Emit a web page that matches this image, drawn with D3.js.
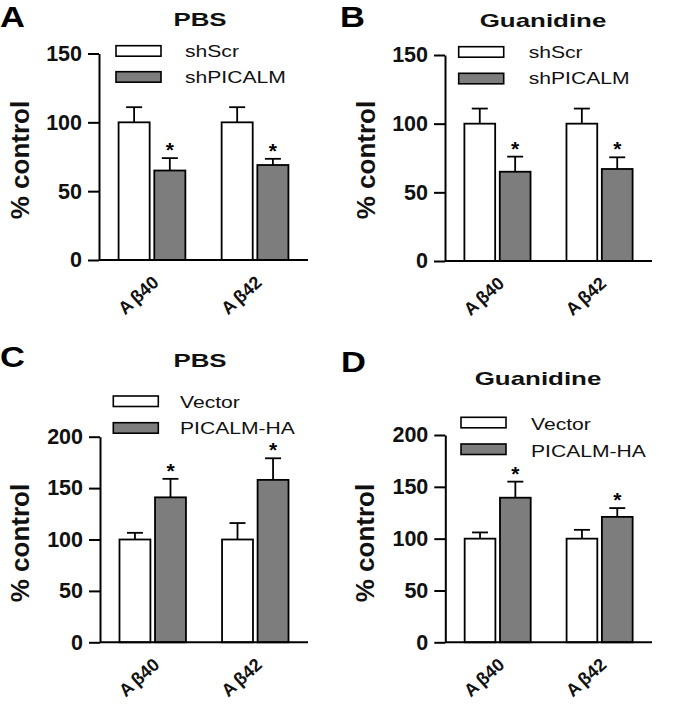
<!DOCTYPE html>
<html>
<head>
<meta charset="utf-8">
<script src="https://cdn.jsdelivr.net/npm/d3@7/dist/d3.min.js"></script>
<style>
  body { margin: 0; background: #fff; }
  svg { display: block; font-family: "Liberation Sans", Arial, sans-serif; }
</style>
</head>
<body>
<svg id="chart" width="693" height="706"></svg>
<script>
// ---------- data ----------
const groups = ["Aβ40", "Aβ42"];
const seriesKnockdown = ["shScr", "shPICALM"];
const seriesOverexp = ["Vector", "PICALM-HA"];
const ticksKnockdown = [0, 50, 100, 150];
const ticksOverexp = [0, 50, 100, 150, 200];

// Panel A (PBS, knockdown)
const aShScr = [100, 100];
const aShScrErr = [11, 11];
const aShPICALM = [65, 69];
const aShPICALMErr = [9, 4.5];
// Panel B (Guanidine, knockdown)
const bShScr = [100, 100];
const bShScrErr = [11, 11];
const bShPICALM = [65, 67];
const bShPICALMErr = [11, 8.5];
// Panel C (PBS, overexpression)
const cVector = [100, 100];
const cVectorErr = [6.5, 16];
const cPicalmHA = [141, 158];
const cPicalmHAErr = [18, 21];
// Panel D (Guanidine, overexpression)
const dVector = [100, 100];
const dVectorErr = [6, 8.5];
const dPicalmHA = [139.5, 121];
const dPicalmHAErr = [15.5, 8.5];

const panelLetters = ["A", "B", "C", "D"];
const panelTitles = ["PBS", "Guanidine", "PBS", "Guanidine"];
const yLabel = "% control";

// ---------- layout ----------
const GREY = "#7d7d7d";
const svg = d3.select("#chart");

const panels = [
  { letter: panelLetters[0], title: panelTitles[0], series: seriesKnockdown, ticks: ticksKnockdown, max: 150,
    vals: [aShScr, aShPICALM], errs: [aShScrErr, aShPICALMErr],
    ax: 99, x1: 308, y0: 260, yTop: 53.5,
    letterPos: [0, 27], titlePos: [200, 26], ylabX: 29, ylabY: 160,
    legRectX: 116, legRectY: [45.7, 71.7], legTextX: 185, legTextY: [56.7, 83] },
  { letter: panelLetters[1], title: panelTitles[1], series: seriesKnockdown, ticks: ticksKnockdown, max: 150,
    vals: [bShScr, bShPICALM], errs: [bShScrErr, bShPICALMErr],
    ax: 445, x1: 652, y0: 261, yTop: 55,
    letterPos: [340, 27], titlePos: [543, 26.7], ylabX: 375, ylabY: 160,
    legRectX: 458.7, legRectY: [46.7, 73.3], legTextX: 528.7, legTextY: [57.5, 84] },
  { letter: panelLetters[2], title: panelTitles[2], series: seriesOverexp, ticks: ticksOverexp, max: 200,
    vals: [cVector, cPicalmHA], errs: [cVectorErr, cPicalmHAErr],
    ax: 100, x1: 308, y0: 642.3, yTop: 436.7,
    letterPos: [0, 367], titlePos: [200, 366.7], ylabX: 29, ylabY: 543,
    legRectX: 113.3, legRectY: [396, 422.7], legTextX: 180, legTextY: [408.3, 434] },
  { letter: panelLetters[3], title: panelTitles[3], series: seriesOverexp, ticks: ticksOverexp, max: 200,
    vals: [dVector, dPicalmHA], errs: [dVectorErr, dPicalmHAErr],
    ax: 445.3, x1: 652, y0: 642.3, yTop: 435,
    letterPos: [341, 372], titlePos: [538, 385], ylabX: 374, ylabY: 543,
    legRectX: 461, legRectY: [417.3, 444], legTextX: 531, legTextY: [430, 456.7] }
];

panels.forEach(p => {
  const g = svg.append("g");
  const y = d3.scaleLinear().domain([0, p.max]).range([p.y0, p.yTop]);
  const x0 = d3.scaleBand().domain(groups).range([p.ax, p.x1]).paddingInner(0.352).paddingOuter(0.19);
  const x1 = d3.scaleBand().domain(p.series).range([0, x0.bandwidth()]).paddingInner(0.13);

  // panel letter
  g.append("text").attr("transform", `translate(${p.letterPos[0]},${p.letterPos[1]}) scale(1.15,1)`)
    .attr("font-size", 30).attr("font-weight", "bold").attr("fill", "#000").text(p.letter);

  // title
  g.append("text").attr("transform", `translate(${p.titlePos[0]},${p.titlePos[1]}) scale(1.4,1)`)
    .attr("text-anchor", "middle").attr("font-size", 18.5).attr("font-weight", "bold").attr("fill", "#111")
    .text(p.title);

  // y axis
  const yAxis = d3.axisLeft(y).tickValues(p.ticks).tickSize(11).tickSizeOuter(0).tickPadding(6).tickFormat(d3.format("d"));
  const ya = g.append("g").attr("transform", `translate(${p.ax},0)`).call(yAxis);
  ya.select(".domain").attr("stroke", "#000").attr("stroke-width", 2);
  ya.selectAll(".tick line").attr("stroke", "#000").attr("stroke-width", 2);
  ya.selectAll(".tick text").attr("font-size", 21.5).attr("font-weight", "bold")
    .attr("font-family", "'Liberation Sans', Arial, sans-serif").attr("fill", "#111");

  // y label
  g.append("text").attr("transform", `translate(${p.ylabX},${p.ylabY}) rotate(-90)`)
    .attr("text-anchor", "middle").attr("font-size", 26).attr("font-weight", "bold").attr("fill", "#111")
    .text(yLabel);

  // bars
  groups.forEach((grp, gi) => {
    p.series.forEach((s, si) => {
      const v = p.vals[si][gi], e = p.errs[si][gi];
      const bx = x0(grp) + x1(s), bw = x1.bandwidth();
      const cx = bx + bw / 2;
      // error bar (upper only)
      g.append("line").attr("x1", cx).attr("x2", cx).attr("y1", y(v)).attr("y2", y(v + e))
        .attr("stroke", "#000").attr("stroke-width", 1.8);
      g.append("line").attr("x1", cx - 8).attr("x2", cx + 8).attr("y1", y(v + e)).attr("y2", y(v + e))
        .attr("stroke", "#000").attr("stroke-width", 1.8);
      g.append("rect").attr("x", bx).attr("y", y(v)).attr("width", bw).attr("height", y(0) - y(v))
        .attr("fill", si === 0 ? "#fff" : GREY).attr("stroke", "#000").attr("stroke-width", 1.8);
      if (si === 1) {
        g.append("text").attr("x", cx).attr("y", y(v + e) - 1).attr("text-anchor", "middle")
          .attr("font-size", 21).attr("font-weight", "bold").attr("fill", "#000").text("*");
      }
    });
    // category label
    const gc = x0(grp) + x0.bandwidth() / 2;
    const t = g.append("text").attr("transform", `translate(${gc + 8},${p.y0 + 24}) rotate(-42)`)
      .attr("text-anchor", "end").attr("font-size", 18).attr("font-weight", "bold").attr("fill", "#111");
    t.append("tspan").text(grp.slice(0, 1));
    t.append("tspan").attr("dx", 3).text(grp.slice(1));
  });

  // x axis line
  g.append("line").attr("x1", p.ax).attr("x2", p.x1).attr("y1", p.y0).attr("y2", p.y0)
    .attr("stroke", "#000").attr("stroke-width", 2);

  // legend
  p.series.forEach((s, si) => {
    g.append("rect").attr("x", p.legRectX).attr("y", p.legRectY[si]).attr("width", 45).attr("height", 10.5)
      .attr("fill", si === 0 ? "#fff" : GREY).attr("stroke", "#000").attr("stroke-width", 1.6);
    g.append("text").attr("transform", `translate(${p.legTextX},${p.legTextY[si]}) scale(1.32,1)`)
      .attr("font-size", 16).attr("fill", "#111").text(s);
  });
});
</script>
</body>
</html>
